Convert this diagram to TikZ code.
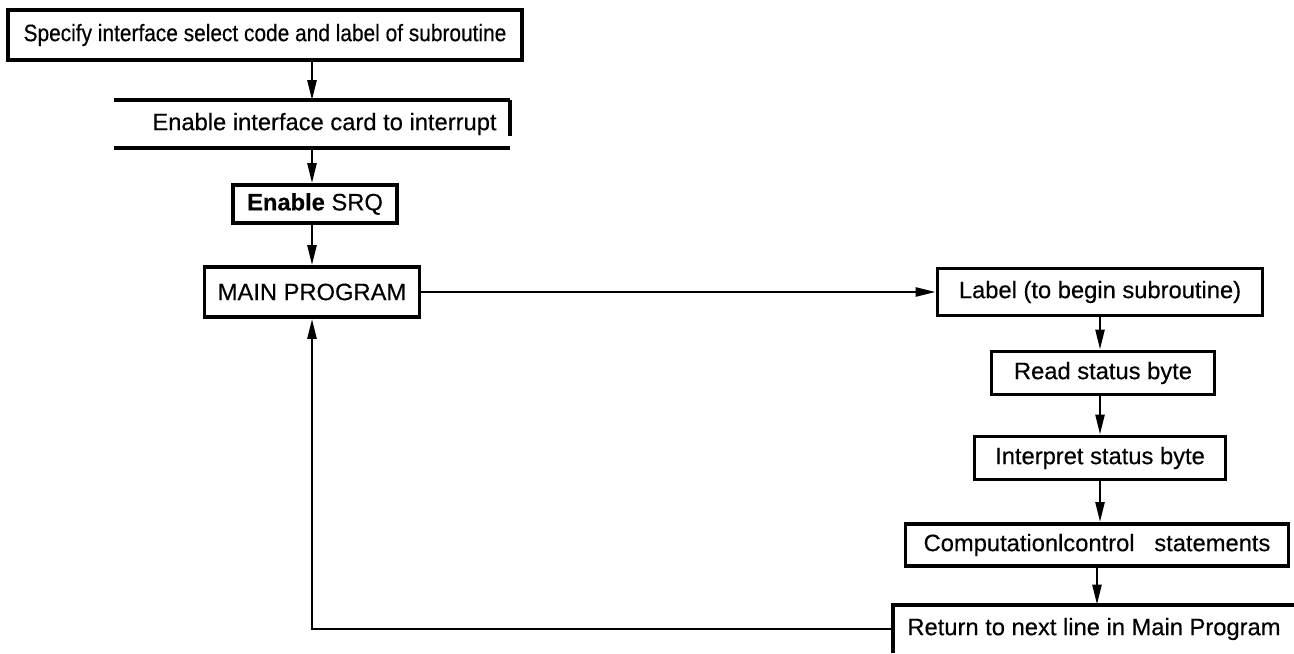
\documentclass[tikz,border=0pt]{standalone}
\usepackage{fontspec}
\setmainfont{Liberation Sans}[FakeBold=0.4]
\newfontfamily\narrowfont{Liberation Sans}[FakeStretch=0.88,FakeBold=0.4]
\usetikzlibrary{arrows.meta}

\begin{document}
\begin{tikzpicture}[x=0.2mm,y=-0.2mm,font=\fontsize{13.5}{15}\selectfont,
  bx/.style={rectangle,draw,line width=2.2pt,inner sep=0pt},
  op/.style={rectangle,inner sep=0pt},
  ed/.style={line width=2.2pt},
  ar/.style={-{Triangle[length=4mm,width=1.8mm]},line width=1.4pt}]
\useasboundingbox (0,0) rectangle (1294,653);
% left column
\node[bx,minimum width=514*0.2mm,minimum height=50*0.2mm,font=\narrowfont\fontsize{13.5}{15}\selectfont] (spec) at (265,35) {Specify interface select code and label of subroutine};
\node[op,minimum width=395*0.2mm,minimum height=47*0.2mm] (card) at (312,124) {\hspace*{5mm}Enable interface card to interrupt};
\draw[ed] (card.north west) -- (card.north east); \draw[ed] (card.south west) -- (card.south east);
\draw[ed] (card.north east) -- ([yshift=2.4mm]card.south east);
\node[bx,minimum width=164*0.2mm,minimum height=38*0.2mm] (srq) at (315,204) {\textbf{Enable} SRQ};
\node[bx,minimum width=215*0.2mm,minimum height=50*0.2mm] (main) at (312,292) {MAIN PROGRAM};
% right column
\node[bx,minimum width=325*0.2mm,minimum height=47*0.2mm] (lbl) at (1100,292) {Label (to begin subroutine)};
\node[bx,minimum width=223*0.2mm,minimum height=43*0.2mm] (read) at (1103,373) {Read status byte};
\node[bx,minimum width=251*0.2mm,minimum height=43*0.2mm] (interp) at (1100,458) {Interpret status byte};
\node[bx,minimum width=383*0.2mm,minimum height=42*0.2mm] (comp) at (1097,545) {Computationlcontrol\ \ \ statements};
\node[op,minimum width=402*0.2mm,minimum height=48*0.2mm] (ret) at (1094,629) {Return to next line in Main Program};
\draw[ed] (ret.north east) -- (ret.north west) -- (ret.south west);
% connectors
\draw[ar] (card.north |- spec.south) -- (card.north);
\draw[ar] (card.south) -- (card.south |- srq.north);
\draw[ar] (main.north |- srq.south) -- (main.north);
\draw[ar] (main.east) -- (lbl.west);
\draw[ar] (lbl.south) -- (lbl.south |- read.north);
\draw[ar] (interp.north |- read.south) -- (interp.north);
\draw[ar] (interp.south) -- (interp.south |- comp.north);
\draw[ar] (comp.south) -- (comp.south |- ret.north);
\draw[ar] (ret.west) -| (main.south);
\end{tikzpicture}
\end{document}
